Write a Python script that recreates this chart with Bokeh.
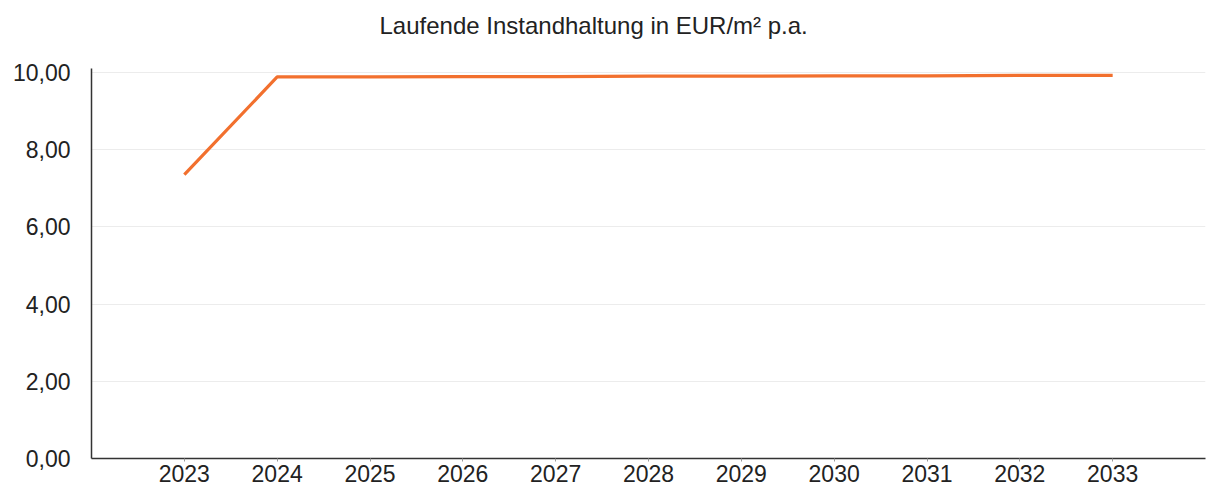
from bokeh.plotting import figure
from bokeh.models import Range1d, FixedTicker, Title, CustomJSTickFormatter
from bokeh.embed import file_html
from bokeh.resources import INLINE

years = ["2023", "2024", "2025", "2026", "2027", "2028", "2029", "2030", "2031", "2032", "2033"]
values = [7.35, 9.88, 9.88, 9.89, 9.89, 9.90, 9.90, 9.91, 9.91, 9.92, 9.92]
y_ticks = [0, 2, 4, 6, 8, 10]

xs = list(range(1, len(years) + 1))

p = figure(width=1213, height=490, output_backend="svg", toolbar_location=None,
           x_range=Range1d(0, len(years) + 1), y_range=Range1d(0, 10.72),
           min_border_left=91, min_border_right=8, min_border_bottom=32, min_border_top=44)

p.title = Title(text="Laufende Instandhaltung in EUR/m² p.a.", align="left", offset=288,
                text_font="Liberation Sans", text_font_size="24px", text_font_style="normal",
                text_color="#222222", standoff=12)

p.line(xs, values, line_color="#f2702e", line_width=3.2)

p.outline_line_color = None
p.background_fill_color = "white"

p.xgrid.grid_line_color = None
p.ygrid.grid_line_color = "#ececec"
p.ygrid.grid_line_width = 1
p.ygrid.ticker = FixedTicker(ticks=y_ticks)

p.yaxis.ticker = FixedTicker(ticks=y_ticks)
p.yaxis.bounds = (0, 10.1)
p.yaxis.formatter = CustomJSTickFormatter(code="return tick.toFixed(2).replace('.', ',');")
p.yaxis.major_tick_line_color = None
p.yaxis.minor_tick_line_color = None
p.yaxis.axis_line_color = "#333333"
p.yaxis.axis_line_width = 1.5
p.yaxis.major_label_text_font = "Liberation Sans"
p.yaxis.major_label_text_font_size = "23px"
p.yaxis.major_label_text_color = "#222222"
p.yaxis.major_label_standoff = 15

p.xaxis.ticker = FixedTicker(ticks=xs)
p.xaxis.major_label_overrides = {x: y for x, y in zip(xs, years)}
p.xaxis.minor_tick_line_color = None
p.xaxis.major_tick_in = 0
p.xaxis.major_tick_out = 3
p.xaxis.major_tick_line_color = "#999999"
p.xaxis.axis_line_color = "#333333"
p.xaxis.axis_line_width = 1.5
p.xaxis.major_label_text_font = "Liberation Sans"
p.xaxis.major_label_text_font_size = "23px"
p.xaxis.major_label_text_color = "#222222"
p.xaxis.major_label_standoff = 3

open("out.html", "w").write(file_html(p, INLINE))
